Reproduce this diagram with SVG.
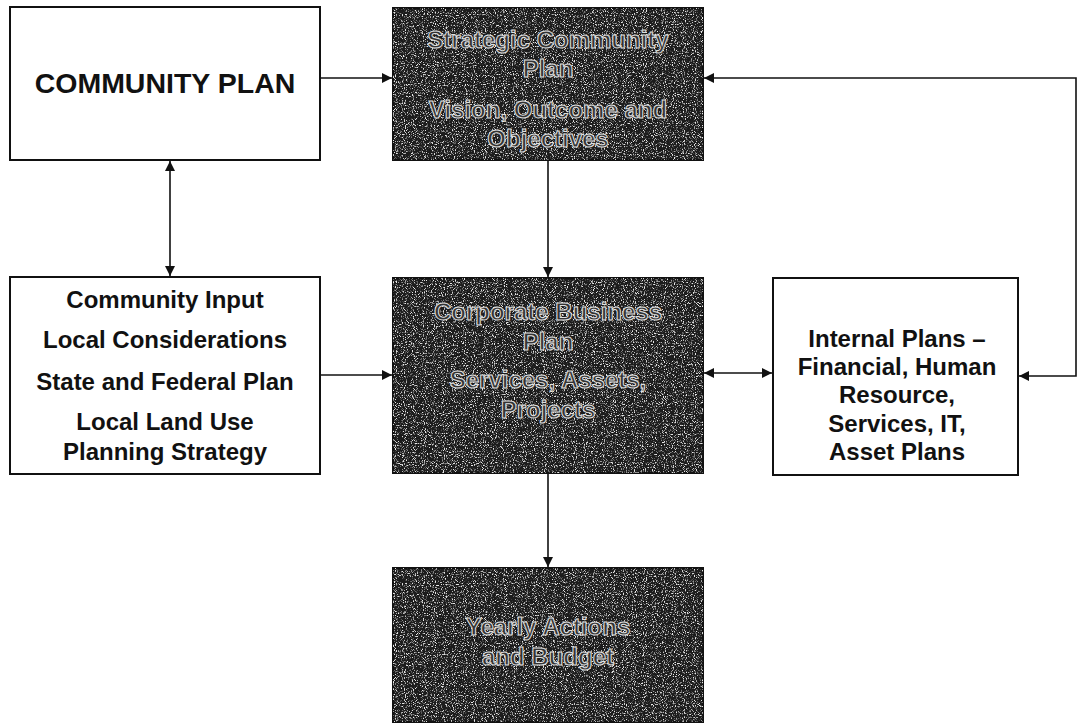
<svg xmlns="http://www.w3.org/2000/svg" width="1078" height="725" viewBox="0 0 1078 725">
<style>
.box{fill:#fff;stroke:#111;stroke-width:2}
.dark{fill:#1c1c1c;stroke:#111;stroke-width:2}
.t{font-family:"Liberation Sans",Arial,sans-serif;font-weight:bold;fill:#111;text-anchor:middle}
.dt{font-family:"Liberation Sans",Arial,sans-serif;font-weight:bold;font-size:24px;fill:#333;stroke:#e0e0e0;stroke-width:1;text-anchor:middle}
.c{fill:none;stroke:#111;stroke-width:1.6}
</style>
<defs>
<marker id="arr" viewBox="0 0 10 10" refX="10" refY="5" markerWidth="10" markerHeight="10" markerUnits="userSpaceOnUse" orient="auto-start-reverse">
<path d="M0,0 L10,5 L0,10 z" fill="#111"/>
</marker>
<filter id="grain" x="0" y="0" width="100%" height="100%">
<feTurbulence type="fractalNoise" baseFrequency="0.9" numOctaves="2" seed="4" result="n"/>
<feColorMatrix in="n" type="matrix" values="0 0 0 0 0.8  0 0 0 0 0.8  0 0 0 0 0.8  5 0 0 0 -2.65" result="w"/>
<feComposite in="w" in2="SourceGraphic" operator="in"/>
</filter>
</defs>

<g id="community-plan">
<rect class="box" x="10" y="7" width="310" height="153"/>
<text class="t" x="165" y="93" font-size="28.5">COMMUNITY PLAN</text>
</g>

<g id="inputs">
<rect class="box" x="10" y="277" width="310" height="197"/>
<text class="t" font-size="24" x="165" y="308">Community Input</text>
<text class="t" font-size="24" x="165" y="348">Local Considerations</text>
<text class="t" font-size="24" x="165" y="390">State and Federal Plan</text>
<text class="t" font-size="24" x="165" y="430">Local Land Use</text>
<text class="t" font-size="24" x="165" y="460">Planning Strategy</text>
</g>

<g id="strategic-plan">
<rect class="dark" x="393" y="8" width="310" height="152"/>
<rect x="393" y="8" width="310" height="152" fill="#000" filter="url(#grain)"/>
<text class="dt" x="548" y="48">Strategic Community</text>
<text class="dt" x="548" y="77">Plan</text>
<text class="dt" x="548" y="118">Vision, Outcome and</text>
<text class="dt" x="548" y="147">Objectives</text>
</g>

<g id="corporate-plan">
<rect class="dark" x="393" y="278" width="310" height="195"/>
<rect x="393" y="278" width="310" height="195" fill="#000" filter="url(#grain)"/>
<text class="dt" x="548" y="320">Corporate Business</text>
<text class="dt" x="548" y="350">Plan</text>
<text class="dt" x="548" y="388">Services, Assets,</text>
<text class="dt" x="548" y="418">Projects</text>
</g>

<g id="yearly-actions">
<rect class="dark" x="393" y="568" width="310" height="154"/>
<rect x="393" y="568" width="310" height="154" fill="#000" filter="url(#grain)"/>
<text class="dt" x="548" y="635">Yearly Actions</text>
<text class="dt" x="548" y="665">and Budget</text>
</g>

<g id="internal-plans">
<rect class="box" x="773" y="278" width="245" height="197"/>
<text class="t" font-size="24" x="897" y="347">Internal Plans –</text>
<text class="t" font-size="24" x="897" y="375">Financial, Human</text>
<text class="t" font-size="24" x="897" y="403">Resource,</text>
<text class="t" font-size="24" x="897" y="432">Services, IT,</text>
<text class="t" font-size="24" x="897" y="460">Asset Plans</text>
</g>

<g id="connectors">
<path class="c" d="M321,78 H392" marker-end="url(#arr)"/>
<path class="c" d="M170,161 V276" marker-start="url(#arr)" marker-end="url(#arr)"/>
<path class="c" d="M321,375 H392" marker-end="url(#arr)"/>
<path class="c" d="M548,161 V277" marker-end="url(#arr)"/>
<path class="c" d="M548,474 V567" marker-end="url(#arr)"/>
<path class="c" d="M704,373 H772" marker-start="url(#arr)" marker-end="url(#arr)"/>
<path class="c" d="M704,78 H1076 V376 H1019" marker-start="url(#arr)" marker-end="url(#arr)"/>
</g>
</svg>
